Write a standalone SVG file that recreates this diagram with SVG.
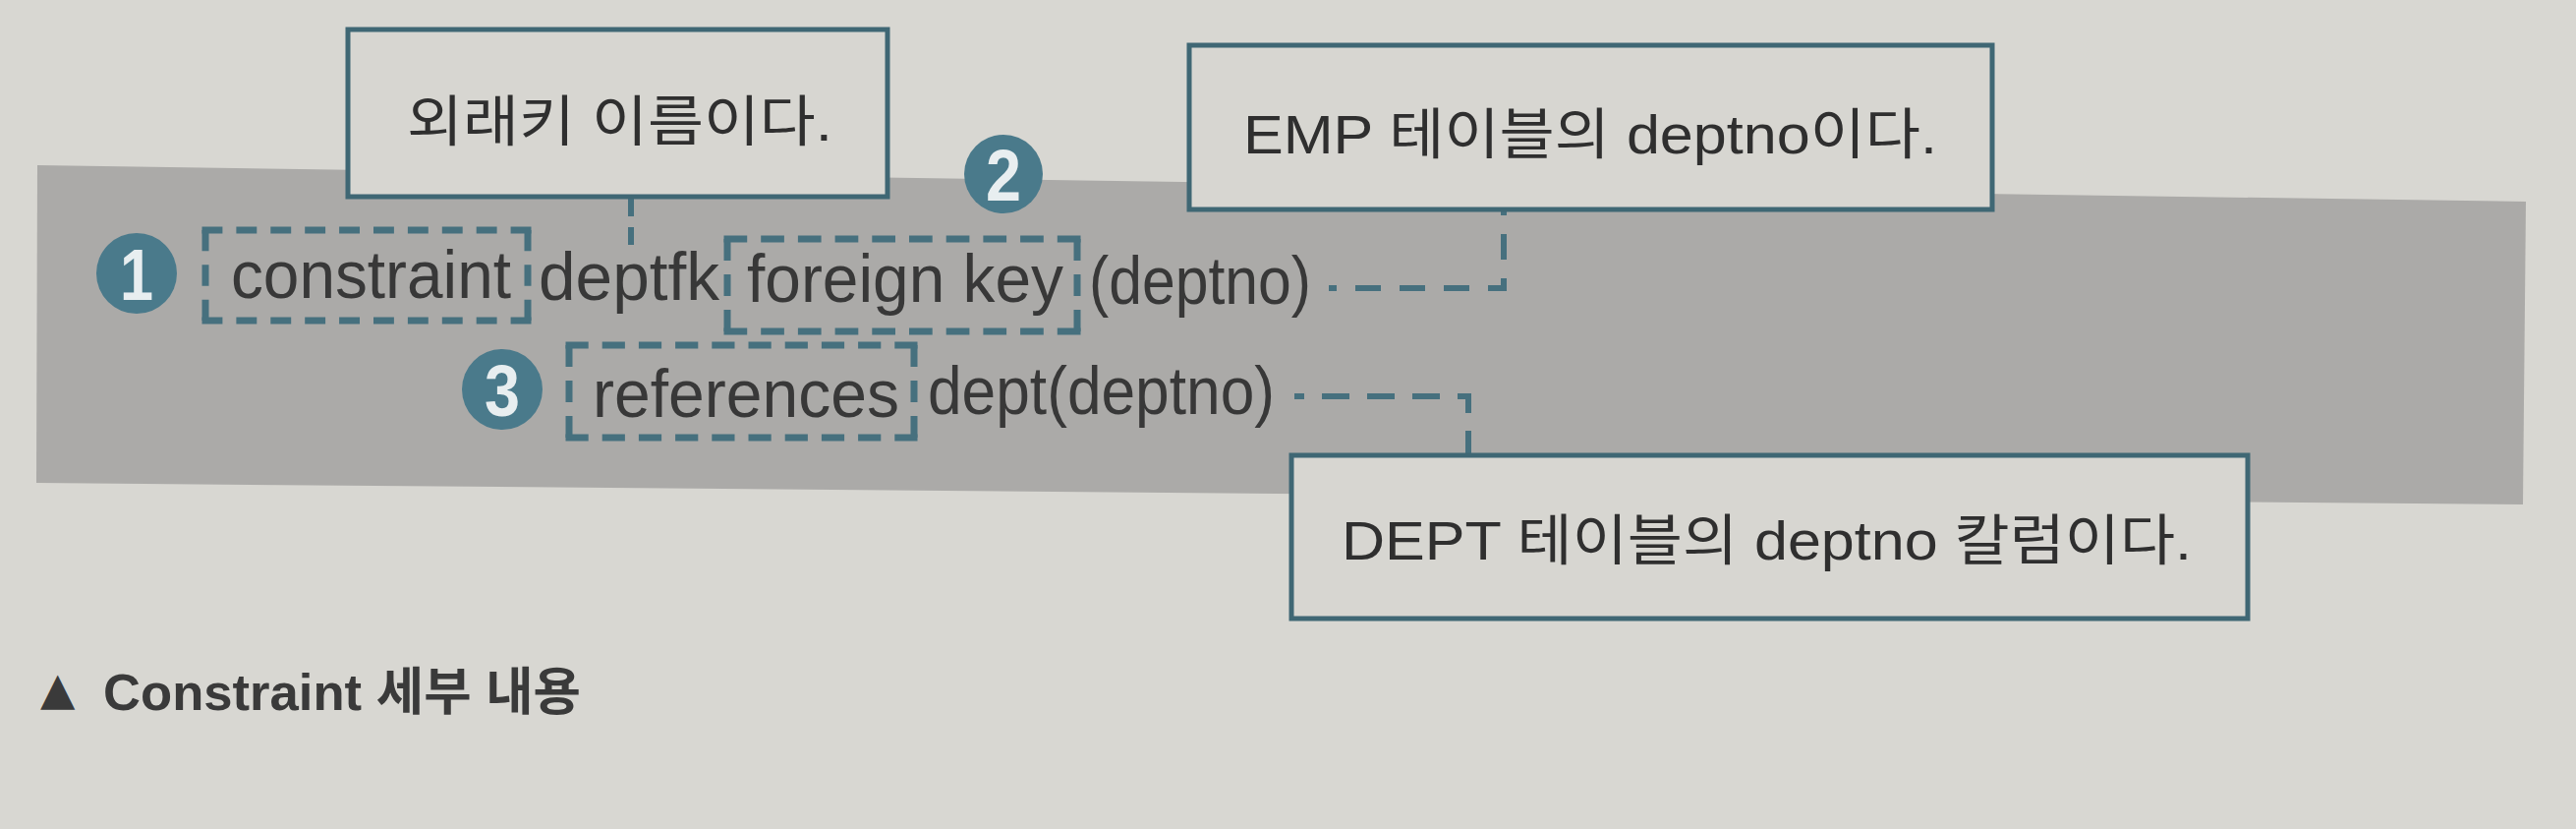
<svg xmlns="http://www.w3.org/2000/svg" width="2621" height="843" viewBox="0 0 2621 843">
<style>
.page{fill:#d8d7d2}
.band{fill:#abaaa8}
.box{fill:#d7d6d1;stroke:#3f6774;stroke-width:5}
.btxt{font-family:"Liberation Sans","Noto Sans CJK KR",sans-serif;font-size:56px;fill:#2f2f2f}
.code{font-family:"Liberation Sans","Noto Sans CJK KR",sans-serif;font-size:68px;fill:#383838}
.hl{fill:none;stroke:#46707e;stroke-width:7}
.mark circle{fill:#4a7a8b}
.mark text{font-family:"Liberation Sans",sans-serif;font-weight:bold;font-size:74px;fill:#e8eef0;text-anchor:middle}
.conn{fill:none;stroke:#46707e;stroke-width:6}
.cap{font-family:"Liberation Sans","Noto Sans CJK KR",sans-serif;font-weight:bold;font-size:52px;fill:#3a3a3a}
</style>
<rect class="page" x="0" y="0" width="2621" height="843"/>
<polygon id="band" class="band" points="38,168 2570,205 2567,513 37,491"/>

<g id="connectors">
  <path class="conn" d="M642,202 V252" stroke-dasharray="18 11"/>
  <path class="conn" d="M1352,293 H1530 V213" stroke-dasharray="26 19" stroke-dashoffset="18"/>
  <path class="conn" d="M1317,403 H1494 V463" stroke-dasharray="28 18" stroke-dashoffset="18"/>
</g>

<g id="box-fkname">
  <rect class="box" x="354" y="30" width="549" height="170"/>
  <text class="btxt" x="414" y="143" textLength="433" lengthAdjust="spacingAndGlyphs">외래키 이름이다.</text>
</g>
<g id="box-emp">
  <rect class="box" x="1210" y="46" width="817" height="167"/>
  <text class="btxt" x="1265" y="156" textLength="706" lengthAdjust="spacingAndGlyphs">EMP 테이블의 deptno이다.</text>
</g>
<g id="box-dept">
  <rect class="box" x="1314" y="463" width="973" height="166"/>
  <text class="btxt" x="1365" y="569" textLength="865" lengthAdjust="spacingAndGlyphs">DEPT 테이블의 deptno 칼럼이다.</text>
</g>

<g id="hl-constraint">
  <path class="hl" d="M205.5,234 H540.5 M205.5,326 H540.5" stroke-dasharray="20.9 14"/>
  <path class="hl" d="M209,234 V326 M537,234 V326" stroke-dasharray="21.33 14"/>
</g>
<g id="hl-foreignkey">
  <path class="hl" d="M736.5,243 H1099.5 M736.5,337 H1099.5" stroke-dasharray="23.7 14"/>
  <path class="hl" d="M740,243 V337 M1096,243 V337" stroke-dasharray="22 14"/>
</g>
<g id="hl-references">
  <path class="hl" d="M575.5,351 H933.5 M575.5,445 H933.5" stroke-dasharray="23.2 14"/>
  <path class="hl" d="M579,351 V445 M930,351 V445" stroke-dasharray="22 14"/>
</g>

<g id="code">
  <text class="code" x="235" y="303" textLength="285" lengthAdjust="spacingAndGlyphs">constraint</text>
  <text class="code" x="548" y="305" textLength="184" lengthAdjust="spacingAndGlyphs">deptfk</text>
  <text class="code" x="760" y="307" textLength="322" lengthAdjust="spacingAndGlyphs">foreign key</text>
  <text class="code" x="1108" y="309" textLength="226" lengthAdjust="spacingAndGlyphs">(deptno)</text>
  <text class="code" x="603" y="424" textLength="312" lengthAdjust="spacingAndGlyphs">references</text>
  <text class="code" x="944" y="421" textLength="353" lengthAdjust="spacingAndGlyphs">dept(deptno)</text>
</g>

<g id="mark-1" class="mark">
  <circle cx="139" cy="278" r="41"/>
  <text x="139" y="305" textLength="34" lengthAdjust="spacingAndGlyphs">1</text>
</g>
<g id="mark-2" class="mark">
  <circle cx="1021" cy="177" r="40"/>
  <text x="1021" y="204" textLength="36" lengthAdjust="spacingAndGlyphs">2</text>
</g>
<g id="mark-3" class="mark">
  <circle cx="511" cy="396" r="41"/>
  <text x="511" y="423" textLength="36" lengthAdjust="spacingAndGlyphs">3</text>
</g>

<g id="caption">
  <text class="cap" x="41" y="716" style="font-family:'DejaVu Sans',sans-serif;font-size:46px;font-weight:normal">▲</text>
  <text class="cap" x="105" y="722" textLength="486" lengthAdjust="spacingAndGlyphs">Constraint 세부 내용</text>
</g>
</svg>
